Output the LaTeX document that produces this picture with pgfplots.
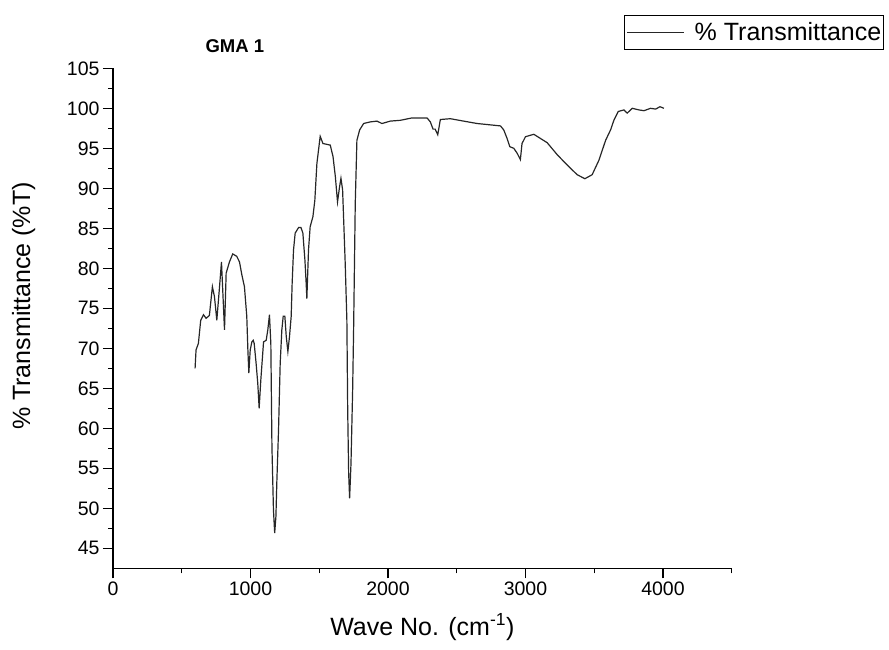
\documentclass[border=0pt]{standalone}
\usepackage{fontspec}
\setmainfont{Liberation Sans}
\usepackage{pgfplots}
\pgfplotsset{compat=1.18}

\begin{document}
\begin{tikzpicture}
\useasboundingbox (0pt,0pt) rectangle (889pt,-649pt);
\begin{axis}[
    at={(113pt,-568.3pt)}, anchor=south west,
    scale only axis,
    width=618.7pt, height=500pt,
    xmin=0, xmax=4500, ymin=42.5, ymax=105,
    axis x line*=bottom, axis y line*=left,
    axis line style={line width=1.3pt},
    xtick={0,1000,2000,3000,4000},
    minor xtick={500,1500,2500,3500,4500},
    ytick={45,50,...,105},
    minor ytick={47.5,52.5,...,102.5},
    tick align=outside,
    major tick length=10pt, minor tick length=5pt,
    every tick/.style={black, line width=1.3pt},
    /pgf/number format/assume math mode=true,
    /pgf/number format/1000 sep={},
    ticklabel style={font=\fontsize{19.5}{23}\selectfont},
    xlabel={Wave No. (cm\textsuperscript{-1})},
    ylabel={\% Transmittance (\%T)},
    label style={font=\fontsize{25}{30}\selectfont},
    xlabel style={at={(axis description cs:0.5,-0.1334)}, anchor=base},
    ylabel style={at={(axis description cs:-0.1340,0.5246)}, anchor=base, rotate=0},
    title={GMA 1},
    title style={at={(axis description cs:0.197,1.0326)}, anchor=center,
                 font=\fontsize{18.5}{22}\selectfont\bfseries},
    legend style={at={(axis description cs:0.8262,1.1066)}, anchor=north west,
                  draw=black, line width=1pt, inner xsep=2pt, inner ysep=0pt,
                  column sep=10pt,
                  nodes={inner sep=0pt, minimum height=34pt,
                         font=\fontsize{25}{30}\selectfont}},
    legend cell align=left,
    legend image code/.code={\draw[#1, line width=1pt] (0pt,0pt) -- (57pt,0pt);},
]
\addplot[black!85, line width=1.2pt] coordinates {
(597,67.5) (604,69.8) (621,70.6) (638,73.5) (658,74.2) (677,73.75) (701,74.1)
(723,77.7) (738,76.45) (755,73.5) (774,77.5) (789,80.8) (811,72.3) (823,79.4)
(847,80.8) (871,81.8) (900,81.5) (920,80.8) (937,79.2) (956,77.7) (973,74)
(981,69.8) (988,66.9) (998,69.8) (1010,70.8) (1020,71) (1027,70.6) (1041,68.1)
(1053,65.6) (1063,62.5) (1075,66) (1095,70.8) (1114,71) (1126,72.3) (1138,74.2)
(1148,70.6) (1156,57.7) (1167,49.8) (1176,46.9) (1185,49) (1192,53.5) (1204,59.8)
(1216,68.1) (1228,72.3) (1238,74) (1250,74) (1260,71.5) (1272,69.6) (1284,71.5)
(1296,74) (1303,78.1) (1313,82.3) (1325,84.4) (1350,85.1) (1367,85.1) (1381,84.4)
(1396,81) (1405,78.1) (1410,76.2) (1422,82.3) (1434,85.2) (1454,86.45) (1468,88.5)
(1483,93.1) (1507,96.5) (1527,95.6) (1580,95.4) (1600,94) (1617,91.5) (1633,88.3)
(1648,90.2) (1658,91.25) (1670,89.8) (1689,80.6) (1701,73.5) (1707,62.3) (1714,54.4)
(1721,51.25) (1731,55.6) (1743,64.8) (1750,72.3) (1762,88.1) (1774,96) (1794,97.3)
(1823,98.1) (1871,98.3) (1920,98.4) (1956,98.1) (2017,98.4) (2090,98.5) (2175,98.8)
(2284,98.8) (2308,98.3) (2328,97.4) (2343,97.4) (2362,96.7) (2381,98.6) (2454,98.7)
(2550,98.4) (2648,98.1) (2818,97.8) (2842,97.3) (2867,96.2) (2886,95.2) (2915,95)
(2939,94.4) (2963,93.6) (2975,95.6) (3000,96.45) (3061,96.75) (3158,95.7) (3231,94.2)
(3304,92.9) (3376,91.7) (3432,91.2) (3485,91.7) (3534,93.5) (3583,96) (3619,97.3)
(3643,98.5) (3675,99.6) (3716,99.8) (3740,99.4) (3777,100) (3825,99.8) (3862,99.7)
(3910,100) (3947,99.9) (3978,100.2) (4007,100)
};
\addlegendentry{\% Transmittance}
\end{axis}
\end{tikzpicture}
\end{document}
